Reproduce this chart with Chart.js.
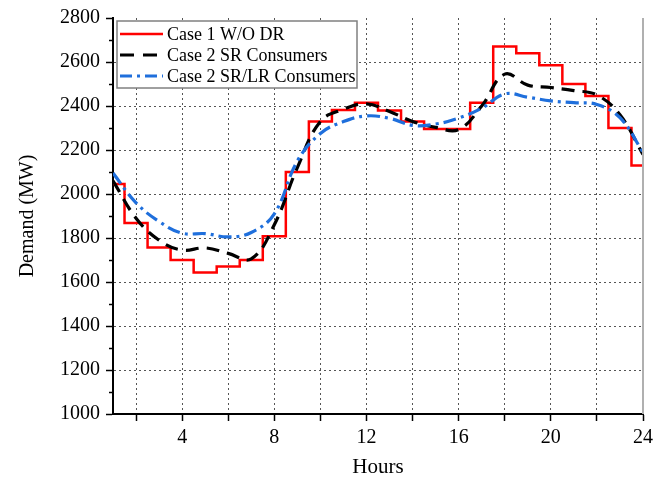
<!DOCTYPE html>
<html><head><meta charset="utf-8">
<script src="https://cdn.jsdelivr.net/npm/chart.js@4.4.0/dist/chart.umd.min.js"></script>
<style>html,body{margin:0;padding:0;background:#fff}#wrap{width:669px;height:482px}</style>
</head><body><div id="wrap"><canvas id="c" width="669" height="482"></canvas></div>
<script>
const hours = [1,2,3,4,5,6,7,8,9,10,11,12,13,14,15,16,17,18,19,20,21,22,23,24];
const case1WithoutDR = [2045,1868,1757,1700,1643,1670,1700,1808,2100,2330,2382,2415,2380,2330,2295,2295,2415,2670,2640,2585,2500,2445,2300,2130];
const case2SR = [2060,1890,1790,1745,1755,1730,1705,1860,2120,2330,2385,2410,2375,2330,2303,2293,2400,2545,2495,2484,2470,2450,2360,2180];
const case2SRLR = [2095,1960,1875,1822,1820,1805,1825,1910,2150,2275,2329,2355,2344,2312,2318,2345,2390,2455,2440,2423,2415,2407,2347,2190];
const seriesLabels = ['Case 1 W/O DR','Case 2 SR Consumers','Case 2 SR/LR Consumers'];
const xTickValues = [2,4,6,8,10,12,14,16,18,20,22,24];
const xLabelValues = [4,8,12,16,20,24];
const yTickValues = [1000,1200,1400,1600,1800,2000,2200,2400,2600,2800];
const yMinorValues = [1100,1300,1500,1700,1900,2100,2300,2500,2700];

const FONT = '"Liberation Serif", "Times New Roman", serif';

const extras = {
  id: 'extras',
  afterDraw(chart) {
    const ctx = chart.ctx, a = chart.chartArea, ys = chart.scales.y;
    ctx.save();
    ctx.strokeStyle = '#b0b0b0'; ctx.lineWidth = 2;
    ctx.beginPath(); ctx.moveTo(a.right, a.top); ctx.lineTo(a.right, a.bottom); ctx.stroke();
    ctx.strokeStyle = '#000'; ctx.lineWidth = 1.5;
    yMinorValues.forEach(v => {
      const p = Math.round(ys.getPixelForValue(v)) + 0.5;
      ctx.beginPath(); ctx.moveTo(a.left - 4, p); ctx.lineTo(a.left, p); ctx.stroke();
    });
    const x0 = a.left + 4, y0 = a.top + 3, w = 240, h = 67;
    ctx.fillStyle = '#fff'; ctx.fillRect(x0, y0, w, h);
    ctx.strokeStyle = '#808080'; ctx.lineWidth = 1.5; ctx.strokeRect(x0, y0, w, h);
    const legendDash = [[], [14, 9], [12, 5, 3, 5]];
    chart.data.datasets.forEach((ds, i) => {
      const y = y0 + 13 + i * 21;
      ctx.beginPath(); ctx.setLineDash(legendDash[i]);
      ctx.strokeStyle = ds.borderColor; ctx.lineWidth = ds.borderWidth;
      ctx.moveTo(x0 + 3, y); ctx.lineTo(x0 + 46, y); ctx.stroke();
      ctx.setLineDash([]);
      ctx.fillStyle = '#000'; ctx.font = '18px ' + FONT; ctx.textBaseline = 'middle'; ctx.textAlign = 'left';
      ctx.fillText(ds.label, x0 + 50, y + 1);
    });
    ctx.restore();
  }
};

new Chart(document.getElementById('c'), {
  type: 'line',
  data: {
    datasets: [
      { label: seriesLabels[0], data: hours.map((h, i) => ({x: h, y: case1WithoutDR[i]})),
        borderColor: '#ff0000', borderWidth: 2.5, stepped: 'middle', pointRadius: 0, order: 3, fill: false },
      { label: seriesLabels[1], data: hours.map((h, i) => ({x: h, y: case2SR[i]})),
        borderColor: '#000000', borderWidth: 3.2, borderDash: [13, 8], tension: 0.4, pointRadius: 0, order: 2, fill: false },
      { label: seriesLabels[2], data: hours.map((h, i) => ({x: h, y: case2SRLR[i]})),
        borderColor: '#1f6fdc', borderWidth: 3.2, borderDash: [13, 5, 3, 5], tension: 0.4, pointRadius: 0, order: 1, fill: false }
    ]
  },
  options: {
    responsive: false, animation: false, devicePixelRatio: 1,
    layout: { padding: { top: 16, right: 26, left: 0, bottom: 0 } },
    plugins: { legend: { display: false }, tooltip: { enabled: false } },
    scales: {
      x: {
        type: 'linear', min: 1, max: 24,
        afterBuildTicks: s => { s.ticks = xTickValues.map(v => ({value: v})); },
        afterFit: s => { s.height = 68; },
        ticks: { autoSkip: false, maxRotation: 0, padding: 5, color: '#000', font: { family: FONT, size: 20 },
          callback: v => xLabelValues.includes(v) ? String(v) : '' },
        grid: { color: c => (c.tick && c.tick.value < 24) ? '#555' : 'rgba(0,0,0,0)', lineWidth: 1,
          tickColor: '#000', tickLength: 7, tickWidth: 1.5, tickBorderDash: [] },
        border: { display: true, color: '#000', width: 2, dash: [2, 3] },
        title: { display: true, text: 'Hours', color: '#000', font: { family: FONT, size: 21 }, padding: { top: 0, bottom: 2 } }
      },
      y: {
        min: 1000, max: 2800,
        afterBuildTicks: s => { s.ticks = yTickValues.map(v => ({value: v})); },
        afterFit: s => { s.width = 113; },
        ticks: { padding: 6, color: '#000', font: { family: FONT, size: 20 }, callback: v => String(v) },
        grid: { color: c => (c.tick && c.tick.value > 1000 && c.tick.value < 2800) ? '#555' : 'rgba(0,0,0,0)', lineWidth: 1,
          tickColor: '#000', tickLength: 7, tickWidth: 1.5, tickBorderDash: [] },
        border: { display: true, color: '#000', width: 2, dash: [2, 3] },
        title: { display: true, text: 'Demand (MW)', color: '#000', font: { family: FONT, size: 20 }, padding: { top: 16, bottom: 0 } }
      }
    }
  },
  plugins: [extras]
});
</script></body></html>
